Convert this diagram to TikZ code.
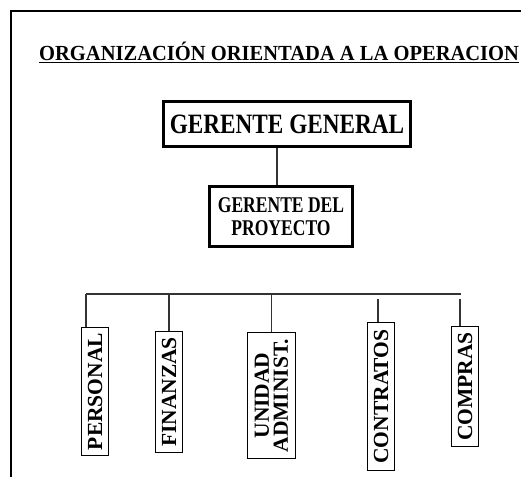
\documentclass[tikz,border=0pt]{standalone}
\usepackage{fontspec}
\setmainfont{Liberation Serif}
\newcommand\unitfont{\bfseries\fontsize{21.5}{19}\selectfont}
\newcommand\squeeze[2]{\scalebox{#1}[1]{#2}}

\begin{document}
\begin{tikzpicture}[x=1pt,y=-1pt,
        frm/.style={line width=1.5pt},
        boss/.style={draw, line width=3pt, inner sep=0, align=center},
        unit/.style={draw, line width=1.2pt, rotate=90, inner sep=0,
            minimum height=27pt, align=center, font=\unitfont},
        ln/.style={line width=1.2pt, black!80}]
    \useasboundingbox (0,0) rectangle (521,476);
    \clip (0,0) rectangle (521,476);
    \draw[frm] (11,11) rectangle (560,520);
    \node(title)[anchor=base west, inner sep=0,
        font=\bfseries\fontsize{21.5}{23}\selectfont] at (39,61)
        {\underline{\squeeze{0.955}{ORGANIZACIÓN ORIENTADA A LA OPERACION}}};
    \node(gg)[boss, minimum width=247pt, minimum height=45pt,
        font=\bfseries\fontsize{28}{29}\selectfont] at (287,124)
        {\squeeze{0.83}{GERENTE GENERAL}};
    \node(gp)[boss, minimum width=143pt, minimum height=60pt,
        font=\bfseries\fontsize{22.5}{23}\selectfont] at (281,216.5)
        {\squeeze{0.78}{GERENTE DEL}\\\squeeze{0.78}{PROYECTO}};
    \draw[ln] ([xshift=-10pt]gg.south) -- ([xshift=-4pt]gp.north);

    \node(per)[unit, minimum width=128pt] at (95,391.5) {PERSONAL};
    \node(fin)[unit, minimum width=121pt] at (169,392) {FINANZAS};
    \node(uni)[unit, minimum width=126pt, minimum height=48pt] at (271.5,395.5) {UNIDAD\\ADMINIST.};
    \node(con)[unit, minimum width=148pt] at (381,396.5) {CONTRATOS};
    \node(com)[unit, minimum width=120pt] at (465,386.5) {COMPRAS};

    \coordinate(barL) at (86,294);
    \coordinate(barR) at (461,294);
    \coordinate(dCon) at (378,299);
    \coordinate(dCom) at (460,299);
    \draw[ln] (barL) -- (barR);
    \draw[ln] (barL) -- (barL |- per.east);
    \draw[ln] (barL -| fin.east) -- (fin.east);
    \draw[ln] (barL -| uni.east) -- (uni.east);
    \draw[ln] (dCon) -- (dCon |- con.east);
    \draw[ln] (dCom) -- (dCom |- com.east);
\end{tikzpicture}
\end{document}
